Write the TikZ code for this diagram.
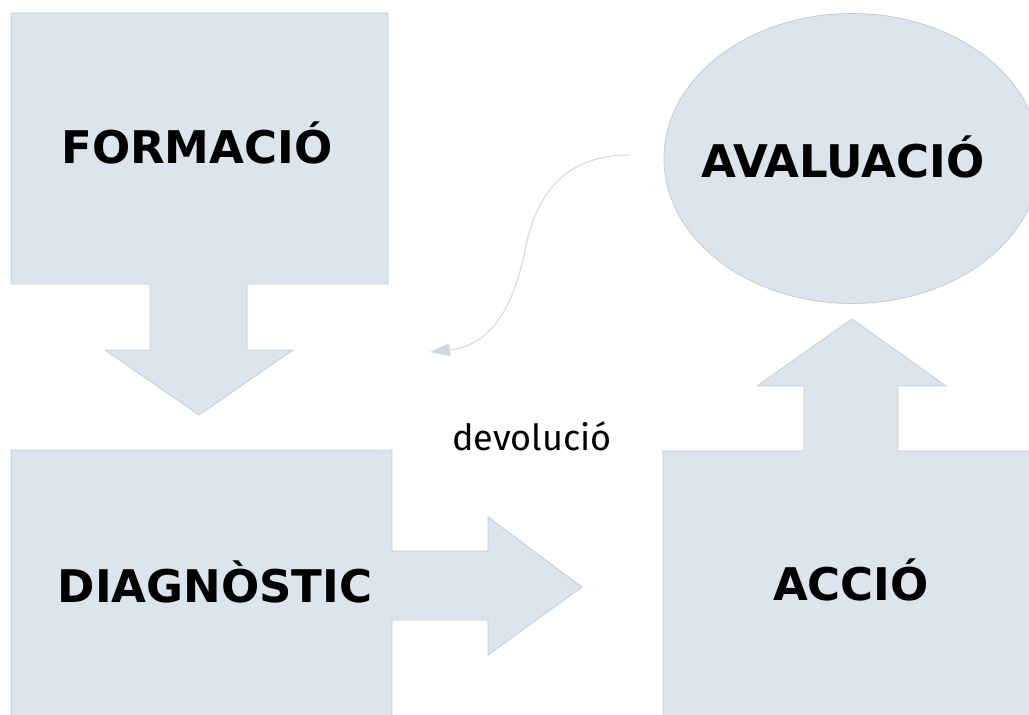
\documentclass[tikz,border=0pt]{standalone}
\usepackage{fontspec}
\usetikzlibrary{arrows.meta}
\newfontfamily\labfont{DejaVu Sans}
\newfontfamily\notefont{Fira Sans}
\definecolor{shapefill}{RGB}{220,228,238}
\definecolor{shapeedge}{RGB}{198,204,212}
\definecolor{curvecol}{RGB}{208,216,226}
\tikzset{
  shapebox/.style={fill=shapefill, draw=shapeedge, line width=0.8pt, line join=miter},
  boldlabel/.style={font=\labfont\bfseries\fontsize{45}{50}\selectfont, anchor=base, inner sep=0pt, text=black},
  notelabel/.style={font=\notefont\fontsize{36}{42}\selectfont, anchor=base, inner sep=0pt, text=black},
  backcurve/.style={draw=curvecol, line width=1pt, -{Triangle[length=20pt,width=13pt]}}
}
\begin{document}
\begin{tikzpicture}[x=1pt,y=-1pt]
\useasboundingbox (0,0) rectangle (1029,715);
\clip (0,0) rectangle (1029,715);
\fill[white] (0,0) rectangle (1029,715);
% FORMACIO box with down arrow
\path[shapebox] (11,13) -- (388,13) -- (388,284) -- (247,284) -- (247,350) -- (293,350)
  -- (199,415) -- (105,350) -- (150,350) -- (150,284) -- (11,284) -- cycle;
% DIAGNOSTIC box with right arrow
\path[shapebox] (11,450) -- (392,450) -- (392,551) -- (488,551) -- (488,517) -- (582,587)
  -- (488,655) -- (488,620) -- (392,620) -- (392,730) -- (11,730) -- cycle;
% ACCIO box with up arrow
\path[shapebox] (663,451) -- (804,451) -- (804,386) -- (757,386) -- (852,319) -- (946,386)
  -- (898,386) -- (898,451) -- (1040,451) -- (1040,730) -- (663,730) -- cycle;
% AVALUACIO ellipse
\path[shapebox] (852,158.5) ellipse [x radius=188, y radius=145];
% labels
\node[boldlabel] (formacio) at (197,163) {FORMACIÓ};
\node[boldlabel] (diagnostic) at (215,602) {DIAGNÒSTIC};
\node[boldlabel] (accio) at (851,600) {ACCIÓ};
\node[boldlabel] (avaluacio) at (843,177) {AVALUACIÓ};
\node[notelabel] (devolucio) at (532,450) {devolució};
% feedback curve
\coordinate (cstart) at (630,155);
\coordinate (cmid) at (525,250);
\coordinate (cend) at (430,352);
\draw[backcurve] (cstart) .. controls (560,155) and (535,200) .. (cmid)
  .. controls (515,300) and (495,345) .. (cend);
\end{tikzpicture}
\end{document}
